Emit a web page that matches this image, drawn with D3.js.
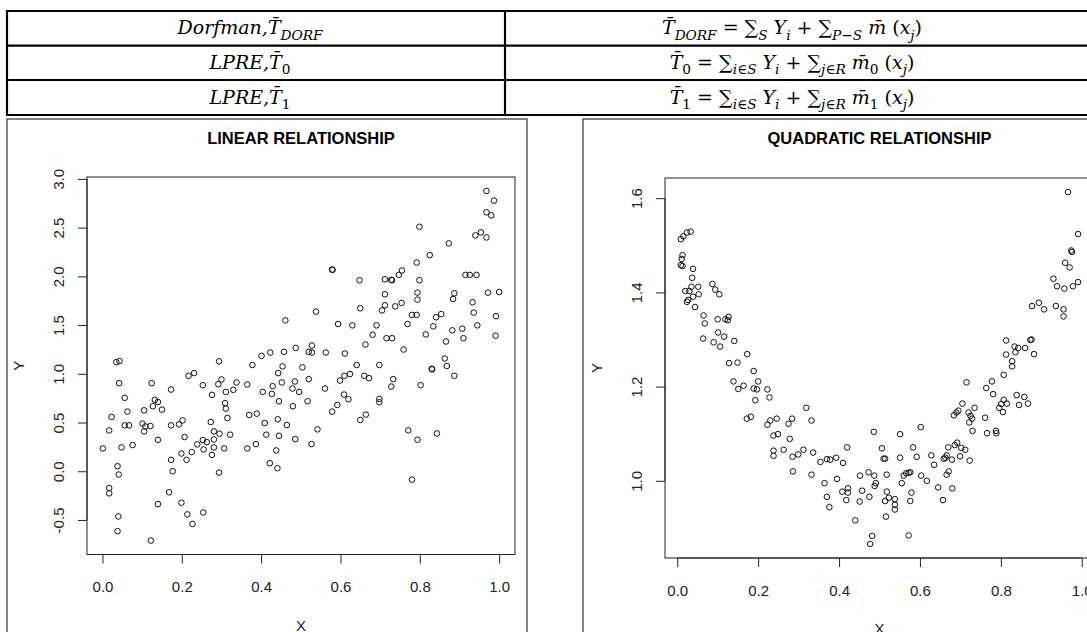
<!DOCTYPE html>
<html>
<head>
<meta charset="utf-8">
<script src="https://cdn.jsdelivr.net/npm/d3@7"></script>
<style>
body{margin:0;background:#fff}
svg{display:block}
</style>
</head>
<body>
<div id="chart"></div>
<script>
// table text, split in [text, kind] pieces: i = italic, s = subscript
const rowLabels = [
  [['Dorfman,','i'],['T\u0304','i'],['DORF','si']],
  [['LPRE,','i'],['T\u0304','i'],['0','s']],
  [['LPRE,','i'],['T\u0304','i'],['1','s']]
];
const rowFormulas = [
  [['T\u0304','i'],['DORF','si'],[' = ','n'],['\u2211','n'],['S','si'],[' Y','i'],['i','si'],[' + ','n'],['\u2211','n'],['P\u2212S','si'],[' m\u0304','i'],[' (','n'],['x','i'],['j','si'],[')','n']],
  [['T\u0304','i'],['0','s'],[' = ','n'],['\u2211','n'],['i\u2208S','si'],[' Y','i'],['i','si'],[' + ','n'],['\u2211','n'],['j\u2208R','si'],[' m\u0304','i'],['0','s'],[' (','n'],['x','i'],['j','si'],[')','n']],
  [['T\u0304','i'],['1','s'],[' = ','n'],['\u2211','n'],['i\u2208S','si'],[' Y','i'],['i','si'],[' + ','n'],['\u2211','n'],['j\u2208R','si'],[' m\u0304','i'],['1','s'],[' (','n'],['x','i'],['j','si'],[')','n']]
];

const xTicks = [0,0.2,0.4,0.6,0.8,1.0];
const linTicks = [-0.5,0,0.5,1,1.5,2,2.5,3];
const quadTicks = [1.0,1.2,1.4,1.6];

// linear relationship, [x, y]
const linPoints = [
[0.968,2.876],[0.987,2.777],[0.968,2.657],[0.980,2.626],[0.799,2.509],[0.940,2.420],[0.954,2.451],[0.968,2.399],
[0.873,2.338],[0.825,2.218],[0.579,2.070],[0.580,2.066],[0.648,1.960],[0.712,1.970],[0.728,1.964],[0.730,1.960],
[0.747,2.015],[0.755,2.060],[0.792,2.142],[0.799,1.960],[0.915,2.015],[0.926,2.015],[0.943,2.015],[0.794,1.833],
[0.794,1.761],[0.887,1.826],[0.884,1.768],[0.972,1.833],[1.000,1.840],[0.712,1.816],[0.933,1.734],[0.712,1.703],
[0.705,1.651],[0.738,1.692],[0.754,1.727],[0.650,1.672],[0.538,1.638],[0.780,1.604],[0.792,1.604],[0.936,1.628],
[0.992,1.591],[0.854,1.613],[0.841,1.580],[0.834,1.487],[0.769,1.511],[0.594,1.511],[0.630,1.497],[0.691,1.497],
[0.945,1.497],[0.461,1.548],[0.882,1.446],[0.907,1.463],[0.815,1.404],[0.681,1.401],[0.991,1.391],[0.716,1.365],
[0.730,1.365],[0.910,1.365],[0.866,1.331],[0.663,1.301],[0.759,1.249],[0.487,1.266],[0.528,1.290],[0.423,1.218],
[0.458,1.225],[0.401,1.184],[0.520,1.225],[0.528,1.218],[0.563,1.218],[0.611,1.208],[0.863,1.157],[0.035,1.120],
[0.043,1.130],[0.294,1.128],[0.378,1.090],[0.454,1.076],[0.504,1.066],[0.641,1.090],[0.698,1.090],[0.830,1.052],
[0.868,1.080],
[0.217,0.979],[0.231,1.007],[0.042,0.904],[0.124,0.904],[0.253,0.883],[0.292,0.893],[0.300,0.942],[0.338,0.911],
[0.365,0.890],[0.443,1.007],[0.452,0.911],[0.429,0.873],[0.520,0.945],[0.599,0.931],[0.610,0.979],[0.624,0.997],
[0.660,0.979],[0.672,0.955],[0.733,0.945],[0.728,0.869],[0.831,1.045],[0.887,0.979],[0.802,0.883],[0.561,0.849],
[0.479,0.849],[0.485,0.921],[0.496,0.814],[0.404,0.814],[0.427,0.794],[0.330,0.835],[0.311,0.814],[0.173,0.838],
[0.276,0.784],[0.609,0.787],[0.620,0.739],[0.698,0.742],[0.698,0.708],[0.445,0.718],[0.517,0.718],[0.056,0.753],
[0.132,0.732],[0.140,0.711],[0.127,0.667],[0.150,0.632],[0.105,0.625],[0.063,0.612],[0.309,0.698],[0.311,0.643],
[0.480,0.667],[0.592,0.680],[0.579,0.612],[0.664,0.581],[0.650,0.526],[0.370,0.577],[0.389,0.591],[0.273,0.505],
[0.315,0.546],[0.409,0.495],[0.442,0.533],[0.465,0.474],[0.542,0.430],[0.017,0.419],[0.023,0.557],[0.056,0.471],
[0.067,0.471],[0.101,0.488],[0.108,0.460],[0.121,0.464],[0.105,0.409],[0.173,0.471],[0.193,0.481],[0.202,0.522],
[0.140,0.323],[0.207,0.351],[0.076,0.268],[0.048,0.244],[0.001,0.234],[0.281,0.409],[0.295,0.385],[0.322,0.375],
[0.281,0.326],[0.253,0.320],[0.263,0.299],[0.239,0.275],[0.255,0.223],[0.281,0.244],[0.307,0.234],[0.276,0.168],
[0.365,0.234],[0.387,0.278],[0.413,0.375],[0.445,0.364],[0.486,0.330],[0.527,0.278],[0.438,0.213],[0.422,0.082],
[0.441,0.031],[0.173,0.117],[0.199,0.182],[0.212,0.117],[0.225,0.196],[0.177,0.000],[0.294,-0.014],[0.038,0.052],
[0.041,-0.034],[0.017,-0.172],[0.017,-0.227],[0.168,-0.216],[0.199,-0.323],[0.140,-0.337],[0.214,-0.443],[0.254,-0.423],
[0.227,-0.540],[0.040,-0.464],[0.038,-0.615],[0.122,-0.711],[0.771,0.419],[0.794,0.323],[0.843,0.388],[0.780,-0.086]
];

// quadratic relationship, [x, y]
const quadPoints = [
[0.966,1.613],[0.991,1.524],[0.974,1.489],[0.976,1.486],[0.959,1.463],[0.970,1.453],[0.991,1.422],[0.978,1.413],
[0.930,1.429],[0.939,1.413],[0.957,1.408],[0.877,1.371],[0.894,1.378],[0.907,1.364],[0.936,1.371],[0.955,1.364],
[0.955,1.349],[0.813,1.298],[0.873,1.299],[0.876,1.300],[0.834,1.285],[0.843,1.282],[0.860,1.282],[0.813,1.268],
[0.836,1.273],[0.882,1.269],
[0.009,1.513],[0.015,1.519],[0.024,1.527],[0.033,1.529],[0.013,1.479],[0.011,1.471],[0.009,1.458],[0.013,1.456],
[0.039,1.450],[0.037,1.431],[0.020,1.403],[0.030,1.403],[0.035,1.412],[0.052,1.412],[0.039,1.391],[0.027,1.384],
[0.053,1.396],[0.044,1.369],[0.024,1.380],[0.087,1.418],[0.094,1.406],[0.104,1.396],[0.065,1.351],[0.068,1.334],
[0.100,1.343],[0.119,1.343],[0.127,1.348],[0.125,1.341],[0.064,1.302],[0.101,1.315],[0.116,1.306],[0.090,1.294],
[0.106,1.285],[0.141,1.297],[0.173,1.269],[0.128,1.250],[0.149,1.251],
[0.139,1.211],[0.151,1.195],[0.164,1.202],[0.189,1.233],[0.189,1.196],[0.197,1.194],[0.200,1.211],[0.193,1.171],
[0.223,1.194],[0.228,1.177],[0.172,1.132],[0.182,1.136],[0.223,1.119],[0.230,1.128],[0.246,1.132],[0.275,1.121],
[0.284,1.132],[0.319,1.155],[0.332,1.128],[0.238,1.096],[0.249,1.099],[0.278,1.089],[0.238,1.064],[0.238,1.053],
[0.263,1.066],[0.285,1.051],[0.299,1.056],[0.312,1.066],[0.336,1.060],[0.286,1.020],[0.332,1.013],[0.354,1.040],
[0.370,1.046],[0.378,1.045],[0.393,1.049],[0.410,1.038],[0.420,1.071],[0.395,1.004],[0.364,0.995],[0.370,0.966],
[0.376,0.944],[0.408,0.977],[0.422,0.984],[0.422,0.975],[0.418,0.959],[0.440,0.916],[0.452,1.011],[0.457,0.979],
[0.451,0.956],[0.473,1.018],[0.475,0.966],[0.486,1.104],[0.487,1.011],[0.491,0.995],[0.488,0.989],[0.482,0.883],
[0.477,0.866],[0.506,1.069],[0.510,1.047],[0.514,1.047],[0.518,1.013],[0.518,0.977],[0.514,0.957],[0.523,0.964],
[0.516,0.924],[0.538,0.961],[0.538,0.949],[0.538,0.939],[0.551,1.099],[0.551,1.049],[0.555,0.995],[0.560,1.011],
[0.566,1.016],[0.572,1.017],[0.576,1.018],[0.579,0.975],[0.576,0.957],[0.572,0.884],[0.583,1.071],[0.592,1.051],
[0.602,1.114],[0.603,1.011],[0.617,1.000],[0.628,1.054],[0.635,1.034],[0.645,0.986],[0.657,0.959],[0.659,1.047],
[0.663,1.049],[0.666,1.054],[0.666,1.013],[0.671,1.020],[0.670,1.071],[0.679,1.045],[0.680,0.984],[0.686,1.076],
[0.692,1.081],[0.699,1.052],[0.702,1.070],[0.712,1.066],[0.723,1.043],[0.684,1.139],[0.690,1.145],[0.695,1.149],
[0.705,1.164],[0.715,1.209],[0.720,1.145],[0.725,1.138],[0.722,1.124],[0.729,1.132],[0.730,1.106],[0.735,1.155],
[0.761,1.134],[0.766,1.101],[0.764,1.197],[0.778,1.211],[0.781,1.184],[0.788,1.106],[0.789,1.101],[0.796,1.155],
[0.801,1.163],[0.807,1.172],[0.805,1.146],[0.815,1.164],[0.807,1.225],[0.828,1.243],[0.828,1.254],[0.839,1.182],
[0.845,1.161],[0.858,1.178],[0.867,1.164]
];

const W=1087, H=632;
const SANS='"Liberation Sans", Arial, sans-serif';
const svg=d3.select('#chart').append('svg').attr('width',W).attr('height',H);

// ---- table
const rowY=[11,45.7,80,115], tx0=7, tMid=505, tx1=1100;
rowY.forEach(y=>svg.append('line').attr('x1',tx0-1).attr('x2',tx1).attr('y1',y).attr('y2',y)
  .attr('stroke','#000').attr('stroke-width',2.2));
[tx0,tMid].forEach(x=>svg.append('line').attr('x1',x).attr('x2',x).attr('y1',rowY[0]).attr('y2',rowY[3])
  .attr('stroke','#000').attr('stroke-width',2.2));

function mathText(x,y,parts,size){
  const t=svg.append('text').attr('x',x).attr('y',y).attr('text-anchor','middle')
    .attr('font-family','"DejaVu Serif", serif').attr('font-size',size).attr('fill','#000');
  let shift=0;
  parts.forEach(([s,k])=>{
    const sub=k.includes('s'), want=sub?size*0.28:0;
    t.append('tspan').attr('dy',want-shift).attr('font-size',sub?size*0.72:size)
      .attr('font-style',k.includes('i')?'italic':'normal').text(s);
    shift=want;
  });
}
rowLabels.forEach((p,i)=>mathText(250,(rowY[i]+rowY[i+1])/2+6,p,19));
rowFormulas.forEach((p,i)=>mathText(792,(rowY[i]+rowY[i+1])/2+6,p,19));

// ---- scatter panels (R base graphics look)
function scatter(pts,o){
  const pad=e=>{const r=e[1]-e[0]; return [e[0]-0.04*r,e[1]+0.04*r];};
  const x=d3.scaleLinear().domain(pad(d3.extent(pts,d=>d[0]))).range([o.l,o.r]);
  const y=d3.scaleLinear().domain(pad(d3.extent(pts,d=>d[1]))).range([o.b,o.t]);
  const g=svg.append('g');
  g.append('rect').attr('x',o.fx).attr('y',119).attr('width',o.fw).attr('height',600)
    .attr('fill','#fff').attr('stroke','#444').attr('stroke-width',1.3);
  g.append('text').attr('x',(o.l+o.r)/2).attr('y',144).attr('text-anchor','middle')
    .attr('font-family',SANS).attr('font-weight','bold').attr('font-size',16.5).text(o.title);

  g.selectAll('circle').data(pts).join('circle')
    .attr('cx',d=>x(d[0])).attr('cy',d=>y(d[1])).attr('r',2.8)
    .attr('fill','none').attr('stroke','#111').attr('stroke-width',1);

  g.append('rect').attr('x',o.l).attr('y',o.t).attr('width',o.r-o.l).attr('height',o.b-o.t)
    .attr('fill','none').attr('stroke','#222').attr('stroke-width',1);

  const fmt=d=>d.toFixed(1);
  const ax=g.append('g').attr('transform',`translate(0,${o.b})`)
    .call(d3.axisBottom(x).tickValues(xTicks).tickSize(9).tickPadding(18).tickFormat(fmt));
  ax.select('.domain').remove();
  ax.append('line').attr('x1',x(xTicks[0])).attr('x2',x(xTicks[xTicks.length-1])).attr('stroke','#222');

  const ay=g.append('g').attr('transform',`translate(${o.l},0)`)
    .call(d3.axisLeft(y).tickValues(o.yTicks).tickSize(9).tickFormat(fmt));
  ay.select('.domain').remove();
  ay.append('line').attr('y1',y(o.yTicks[0])).attr('y2',y(o.yTicks[o.yTicks.length-1])).attr('stroke','#222');
  ay.selectAll('text').attr('x',null).attr('dy','0.35em').attr('text-anchor','middle')
    .attr('transform','translate(-28,0) rotate(-90)');

  [ax,ay].forEach(a=>{
    a.attr('font-family',SANS).attr('font-size',15);
    a.selectAll('.tick line').attr('stroke','#222');
    a.selectAll('text').attr('fill','#222');
  });

  g.append('text').attr('x',(o.l+o.r)/2).attr('y',o.b+76).attr('text-anchor','middle')
    .attr('font-family',SANS).attr('font-size',15).attr('fill','#222').text('X');
  g.append('text').attr('transform',`translate(${o.l-68},${(o.t+o.b)/2}) rotate(-90)`)
    .attr('text-anchor','middle').attr('dy','0.35em')
    .attr('font-family',SANS).attr('font-size',15).attr('fill','#222').text('Y');
}

scatter(linPoints,{title:'LINEAR RELATIONSHIP',fx:7,fw:520,l:87,r:515,t:177,b:554.5,yTicks:linTicks});
scatter(quadPoints,{title:'QUADRATIC RELATIONSHIP',fx:583,fw:600,l:665,r:1094,t:178,b:558,yTicks:quadTicks});
</script>
</body>
</html>
